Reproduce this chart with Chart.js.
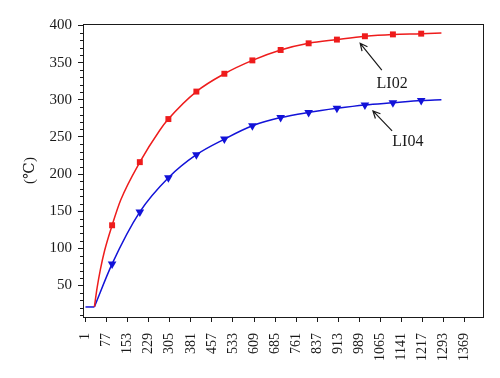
<!DOCTYPE html>
<html>
<head>
<meta charset="utf-8">
<script src="https://cdn.jsdelivr.net/npm/chart.js@4.4.1/dist/chart.umd.min.js"></script>
<style>
    html, body { margin: 0; padding: 0; background: #fff; }
</style>
</head>
<body>
<canvas id="tempChart" width="500" height="378"></canvas>
<script>
// ================= data =================
const xTicks = [1, 77, 153, 229, 305, 381, 457, 533, 609, 685, 761, 837, 913, 989, 1065, 1141, 1217, 1293, 1369];
const yTicks = [50, 100, 150, 200, 250, 300, 350, 400];

// marker positions (same x for both curves)
const markX = [97, 197, 300, 401, 502, 603, 705, 806, 908, 1009, 1110, 1212];
const li02Marks = [131, 216, 274, 311, 335, 353, 367, 376, 381, 385.5, 388, 389];
const li04Marks = [79, 149, 195, 226, 247, 265, 276, 283, 288.5, 293, 296, 299];

// flat start shared by both curves
const flatX = [1, 33];
const flatY = [21, 21];

// points traced along each curve after the flat start
const li02CurveX = [33, 43, 55, 70, 97, 128, 197, 269, 300, 401, 502, 603, 705, 806, 908, 1009, 1110, 1212, 1285];
const li02CurveY = [21, 47, 72, 97, 131, 165, 216, 259, 274, 311, 335, 353, 367, 376, 381, 385.5, 388, 389, 390];
const li04CurveX = [33, 97, 197, 300, 401, 502, 603, 705, 806, 908, 1009, 1110, 1212, 1285];
const li04CurveY = [21, 79, 149, 195, 226, 247, 265, 276, 283, 288.5, 293, 296, 299, 300];

// callouts: name, arrow tip, arrow tail, label centre (data units)
const callouts = [
    { name: "LI02", tip: [992, 376], tail: [1070, 340], label: [1107, 321] },
    { name: "LI04", tip: [1038, 285], tail: [1107, 258], label: [1164, 243] },
];

const RED = "#ee1c1c";
const BLUE = "#1212d8";
const INK = "#1a1a1a";
const SERIF = "'Liberation Serif', 'DejaVu Serif', serif";

const pairs = (xs, ys) => xs.map((x, i) => ({ x, y: ys[i] }));

// ---------- frame, minor ticks and callouts ----------
const extrasPlugin = {
    id: "extras",
    afterDraw(chart) {
        const { ctx, chartArea: a, scales } = chart;
        const sx = scales.x, sy = scales.y;
        ctx.save();
        ctx.strokeStyle = INK;
        ctx.lineWidth = 1;
        ctx.strokeRect(a.left + 0.5, a.top + 0.5, a.right - a.left, a.bottom - a.top);

        // minor ticks every 10 on y
        for (let v = 10; v <= 400; v += 10) {
            if (v % 50 === 0) continue;
            const py = Math.round(sy.getPixelForValue(v)) + 0.5;
            ctx.beginPath();
            ctx.moveTo(a.left - 3, py);
            ctx.lineTo(a.left, py);
            ctx.stroke();
        }

        // arrows + labels
        ctx.lineWidth = 1.2;
        ctx.fillStyle = INK;
        ctx.font = "16px " + SERIF;
        ctx.textAlign = "center";
        ctx.textBaseline = "middle";
        callouts.forEach((c) => {
            const tx = sx.getPixelForValue(c.tip[0]), ty = sy.getPixelForValue(c.tip[1]);
            const bx = sx.getPixelForValue(c.tail[0]), by = sy.getPixelForValue(c.tail[1]);
            const ang = Math.atan2(ty - by, tx - bx);
            ctx.beginPath();
            ctx.moveTo(bx, by);
            ctx.lineTo(tx, ty);
            ctx.moveTo(tx - 8 * Math.cos(ang - 0.45), ty - 8 * Math.sin(ang - 0.45));
            ctx.lineTo(tx, ty);
            ctx.lineTo(tx - 8 * Math.cos(ang + 0.45), ty - 8 * Math.sin(ang + 0.45));
            ctx.stroke();
            ctx.fillText(c.name, sx.getPixelForValue(c.label[0]), sy.getPixelForValue(c.label[1]));
        });
        ctx.restore();
    },
};

const ctx = document.getElementById("tempChart").getContext("2d");

new Chart(ctx, {
    type: "line",
    data: {
        datasets: [
            {
                label: "LI02",
                data: pairs(li02CurveX, li02CurveY),
                borderColor: RED,
                borderWidth: 1.5,
                pointRadius: 0,
                cubicInterpolationMode: "monotone",
            },
            {
                label: "LI04",
                data: pairs(li04CurveX, li04CurveY),
                borderColor: BLUE,
                borderWidth: 1.5,
                pointRadius: 0,
                cubicInterpolationMode: "monotone",
            },
            {
                label: "start",
                data: pairs(flatX, flatY),
                borderColor: BLUE,
                borderWidth: 1.5,
                pointRadius: 0,
                tension: 0,
            },
            {
                label: "LI02 marks",
                data: pairs(markX, li02Marks),
                showLine: false,
                pointStyle: "rect",
                pointRadius: 4.2,
                backgroundColor: RED,
                borderColor: RED,
                borderWidth: 0,
            },
            {
                label: "LI04 marks",
                data: pairs(markX, li04Marks),
                showLine: false,
                pointStyle: "triangle",
                rotation: 180,
                pointRadius: 5,
                backgroundColor: BLUE,
                borderColor: BLUE,
                borderWidth: 0,
            },
        ],
    },
    options: {
        responsive: false,
        animation: false,
        layout: { padding: { left: 0, top: 24, right: 17, bottom: 0 } },
        plugins: {
            legend: { display: false },
            tooltip: { enabled: false },
        },
        scales: {
            x: {
                type: "linear",
                min: -8,
                max: 1435,
                afterBuildTicks: (s) => { s.ticks = xTicks.map((v) => ({ value: v })); },
                afterFit: (s) => { s.height = 61; },
                border: { color: INK, width: 1 },
                grid: { drawOnChartArea: false, tickLength: 5, color: INK },
                ticks: {
                    autoSkip: false,
                    minRotation: 90,
                    maxRotation: 90,
                    padding: 11,
                    color: INK,
                    font: { family: SERIF, size: 14 },
                    callback: (v) => String(v),
                },
            },
            y: {
                type: "linear",
                min: 7.5,
                max: 402,
                afterBuildTicks: (s) => { s.ticks = yTicks.map((v) => ({ value: v })); },
                afterFit: (s) => { s.width = 83; },
                border: { color: INK, width: 1 },
                grid: { drawOnChartArea: false, tickLength: 5, color: INK },
                ticks: {
                    padding: 6,
                    color: INK,
                    font: { family: SERIF, size: 15 },
                    callback: (v) => String(v),
                },
                title: {
                    display: true,
                    text: "(\u2103)",
                    color: INK,
                    font: { family: SERIF, size: 15 },
                    padding: { top: 21, bottom: 0 },
                },
            },
        },
    },
    plugins: [extrasPlugin],
});
</script>
</body>
</html>
